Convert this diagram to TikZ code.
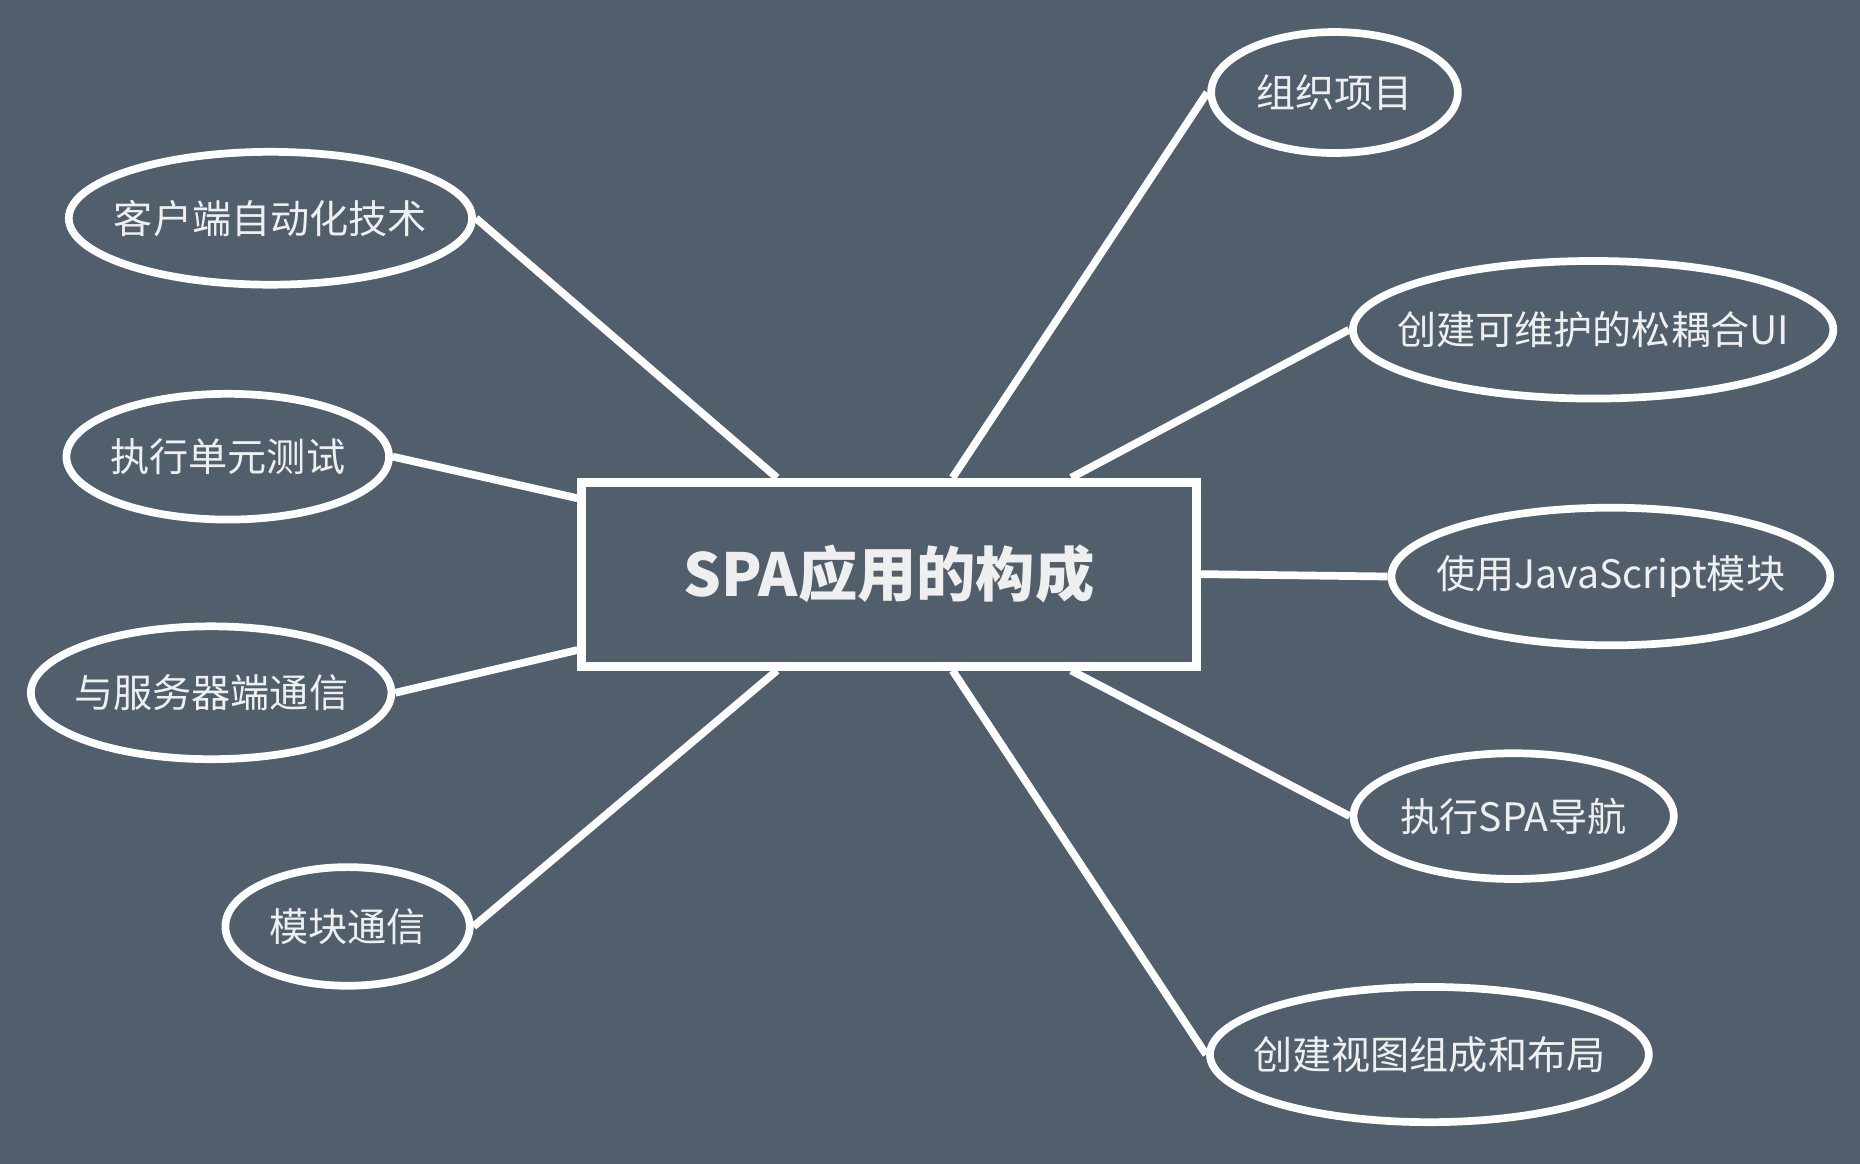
\documentclass[tikz,border=0pt]{standalone}
\usepackage{fontspec}
\setmainfont{Noto Sans CJK SC}
\usetikzlibrary{shapes.geometric}
\definecolor{bg}{HTML}{505F6B}
\definecolor{txt}{HTML}{EFEFEF}
\newcommand{\lbl}[1]{\makebox[0pt]{#1}}
\begin{document}
\begin{tikzpicture}[x=1pt,y=-1pt,
  leaf/.style={ellipse, draw=white, line width=6.5pt, text=txt, font=\fontsize{33}{38}\selectfont, inner sep=0pt},
  hub/.style={rectangle, draw=white, line width=7.5pt, text=txt, font=\fontsize{50}{56}\selectfont\bfseries, minimum width=518pt, minimum height=155pt, inner sep=0pt},
  link/.style={draw=white, line width=6.5pt}]
\fill[bg] (0,0) rectangle (1568,981);
\useasboundingbox (0,0) rectangle (1568,981);
\node[hub] (box) at (749.5,484) {SPA应用的构成};
\node[leaf, minimum width=208pt, minimum height=102pt] (a) at (1125,78) {\lbl{组织项目}};
\node[leaf, minimum width=340pt, minimum height=112pt] (b) at (228,184) {\lbl{客户端自动化技术}};
\node[leaf, minimum width=405pt, minimum height=116pt] (c) at (1343,278) {\lbl{创建可维护的松耦合UI}};
\node[leaf, minimum width=272pt, minimum height=106pt] (d) at (192,385) {\lbl{执行单元测试}};
\node[leaf, minimum width=370pt, minimum height=116pt] (e) at (1358,486) {\lbl{使用JavaScript模块}};
\node[leaf, minimum width=304pt, minimum height=112pt] (f) at (178,584) {\lbl{与服务器端通信}};
\node[leaf, minimum width=270pt, minimum height=106pt] (g) at (1276,688) {\lbl{执行SPA导航}};
\node[leaf, minimum width=206pt, minimum height=100pt] (h) at (293,781) {\lbl{模块通信}};
\node[leaf, minimum width=370pt, minimum height=114pt] (i) at (1205,889) {\lbl{创建视图组成和布局}};
\draw[link] (b.east) -- ([xshift=-94.5pt]box.north);
\draw[link] (a.west) -- ([xshift=53.5pt]box.north);
\draw[link] (c.west) -- ([xshift=153.5pt]box.north);
\draw[link] (d.east) -- ([yshift=64pt]box.west);
\draw[link] (f.east) -- ([yshift=-64pt]box.west);
\draw[link] (e.west) -- (box.east);
\draw[link] (h.east) -- ([xshift=-94.5pt]box.south);
\draw[link] (i.west) -- ([xshift=53.5pt]box.south);
\draw[link] (g.west) -- ([xshift=153.5pt]box.south);
\end{tikzpicture}
\end{document}
